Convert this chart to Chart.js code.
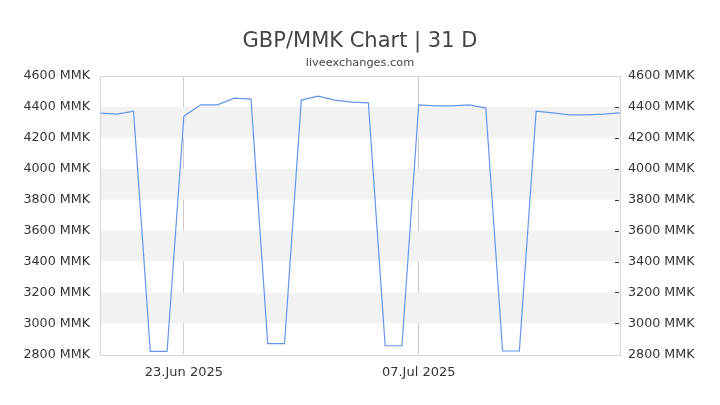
<!DOCTYPE html>
<html>
<head>
<meta charset="utf-8">
<script src="https://cdn.jsdelivr.net/npm/chart.js@4/dist/chart.umd.min.js"></script>
<style>
  html, body { margin: 0; padding: 0; background: #fff; }
  #wrap { width: 720px; height: 405px; position: relative; }
</style>
</head>
<body>
<div id="wrap"><canvas id="chart"></canvas></div>
<script>
'use strict';

// 18 Jun 2025 .. 19 Jul 2025, one point per day
const dates = [
  '18.Jun 2025', '19.Jun 2025', '20.Jun 2025', '21.Jun 2025', '22.Jun 2025', '23.Jun 2025',
  '24.Jun 2025', '25.Jun 2025', '26.Jun 2025', '27.Jun 2025', '28.Jun 2025', '29.Jun 2025',
  '30.Jun 2025', '01.Jul 2025', '02.Jul 2025', '03.Jul 2025', '04.Jul 2025', '05.Jul 2025',
  '06.Jul 2025', '07.Jul 2025', '08.Jul 2025', '09.Jul 2025', '10.Jul 2025', '11.Jul 2025',
  '12.Jul 2025', '13.Jul 2025', '14.Jul 2025', '15.Jul 2025', '16.Jul 2025', '17.Jul 2025',
  '18.Jul 2025', '19.Jul 2025'
];
const rates = [
  4358, 4352, 4371, 2820, 2820, 4339,
  4412, 4412, 4455, 4449, 2869, 2869,
  4443, 4468, 4443, 4430, 4425, 2856,
  2856, 4412, 4406, 4406, 4412, 4391,
  2822, 2822, 4371, 4360, 4347, 4347,
  4352, 4360
];
const shownDates = ['23.Jun 2025', '07.Jul 2025'];
const yMin = 2800;
const yMax = 4600;

const FONT = 'DejaVu Sans';
const TEXT = '#333';

// alternating grey bands behind the line, plus frame and inward right ticks
const chartDecor = {
  id: 'chartDecor',
  beforeDatasetsDraw(chart) {
    const { ctx, chartArea: a } = chart;
    const y = chart.scales.y;
    ctx.save();
    ctx.fillStyle = '#f2f2f2';
    for (let v = yMin; v < yMax; v += 200) {
      if (((v - yMin) / 200) % 2 === 1) {
        const top = y.getPixelForValue(v + 200);
        const bot = y.getPixelForValue(v);
        ctx.fillRect(a.left, top, a.right - a.left, bot - top);
      }
    }
    ctx.restore();
  },
  afterDraw(chart) {
    const { ctx, chartArea: a } = chart;
    const y2 = chart.scales.y2;
    ctx.save();
    ctx.strokeStyle = '#d6d6d6';
    ctx.lineWidth = 1;
    ctx.strokeRect(Math.round(a.left) + 0.5, Math.round(a.top) + 0.5,
      Math.round(a.right - a.left), Math.round(a.bottom - a.top));
    ctx.strokeStyle = '#333';
    y2.ticks.forEach(t => {
      if (t.value === yMin || t.value === yMax) return;
      const py = Math.round(y2.getPixelForValue(t.value)) + 0.5;
      ctx.beginPath();
      ctx.moveTo(a.right - 5, py);
      ctx.lineTo(a.right - 1, py);
      ctx.stroke();
    });
    ctx.restore();
  }
};

new Chart(document.getElementById('chart'), {
  type: 'line',
  data: {
    labels: dates,
    datasets: [{
      data: rates,
      borderColor: 'rgb(100,149,237)',
      borderWidth: 1.2,
      pointRadius: 0,
      tension: 0,
      fill: false
    }]
  },
  plugins: [chartDecor],
  options: {
    responsive: true,
    maintainAspectRatio: false,
    animation: false,
    layout: { padding: { top: 0, bottom: 15, left: 0, right: 0 } },
    plugins: {
      legend: { display: false },
      tooltip: { enabled: false },
      title: {
        display: true,
        text: 'GBP/MMK Chart | 31 D',
        color: '#444',
        font: { family: FONT, size: 21, weight: 'normal' },
        padding: { top: 29, bottom: 2 }
      },
      subtitle: {
        display: true,
        text: 'liveexchanges.com',
        color: '#444',
        font: { family: FONT, size: 11.3 },
        padding: { top: 0, bottom: 6 }
      }
    },
    scales: {
      x: {
        type: 'category',
        offset: false,
        grid: {
          drawTicks: false,
          color: c => (c.tick && shownDates.includes(dates[c.tick.value]) ? '#cccccc' : 'rgba(0,0,0,0)')
        },
        border: { display: false },
        ticks: {
          autoSkip: false,
          maxRotation: 0,
          padding: 10,
          color: TEXT,
          font: { family: FONT, size: 13 },
          callback: (v, i) => (shownDates.includes(dates[i]) ? dates[i] : '')
        }
      },
      y: {
        position: 'left',
        min: yMin,
        max: yMax,
        grid: { display: false },
        border: { display: false },
        ticks: {
          stepSize: 200,
          padding: 2,
          color: TEXT,
          font: { family: FONT, size: 12.7 },
          callback: v => v + ' MMK'
        },
        afterFit: s => { s.width = 100; }
      },
      y2: {
        position: 'right',
        min: yMin,
        max: yMax,
        grid: { display: false },
        border: { display: false },
        ticks: {
          stepSize: 100,
          padding: 0,
          color: TEXT,
          font: { family: FONT, size: 12.7 },
          callback: v => (v % 200 === 0 ? v + ' MMK' : '')
        },
        afterFit: s => { s.width = 100; }
      }
    }
  }
});
</script>
</body>
</html>
